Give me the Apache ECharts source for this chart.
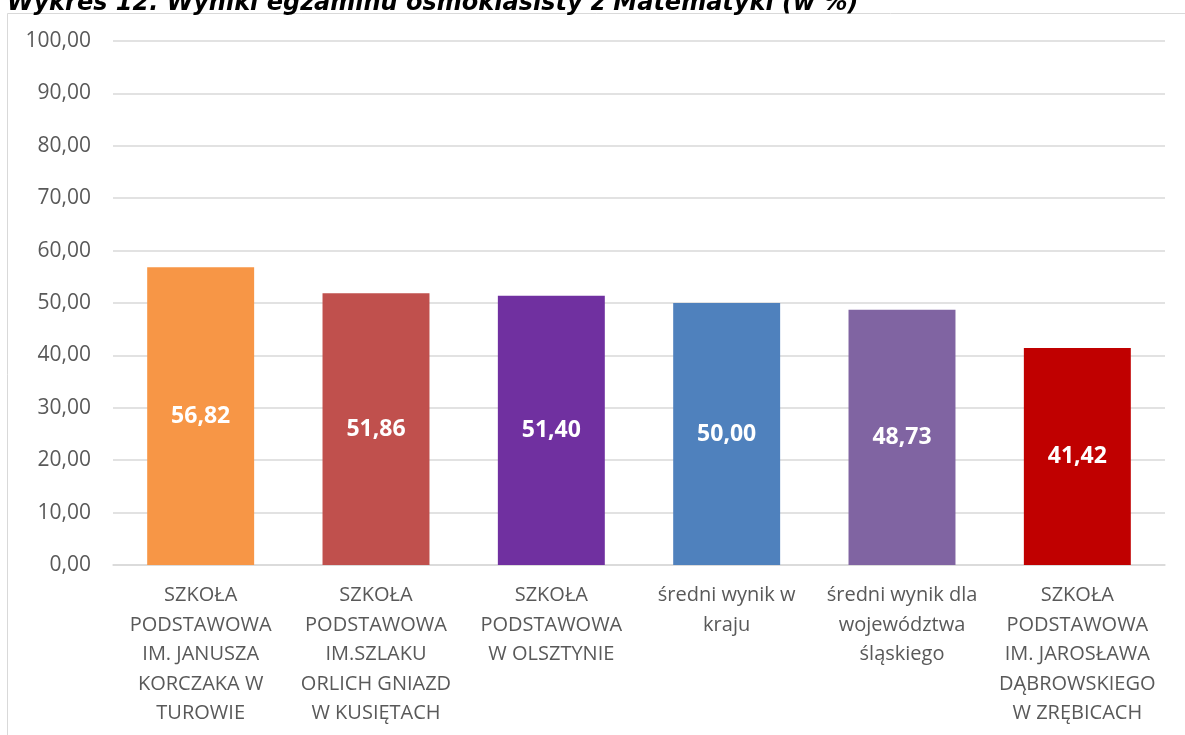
<!DOCTYPE html>
<html>
<head>
<meta charset="utf-8">
<script src="https://cdn.jsdelivr.net/npm/echarts@6/dist/echarts.min.js"></script>
<style>html,body{margin:0;padding:0;background:#fff;}#c{width:1185px;height:735px;}</style>
</head>
<body>
<div id="c"></div>
<script>
const title = 'Wykres 12. Wyniki egzaminu ósmoklasisty z Matematyki (w %)';
const categories = [
  'SZKOŁA\nPODSTAWOWA\nIM. JANUSZA\nKORCZAKA W\nTUROWIE',
  'SZKOŁA\nPODSTAWOWA\nIM.SZLAKU\nORLICH GNIAZD\nW KUSIĘTACH',
  'SZKOŁA\nPODSTAWOWA\nW OLSZTYNIE',
  'średni wynik w\nkraju',
  'średni wynik dla\nwojewództwa\nśląskiego',
  'SZKOŁA\nPODSTAWOWA\nIM. JAROSŁAWA\nDĄBROWSKIEGO\nW ZRĘBICACH'
];
const values = [56.82, 51.86, 51.40, 50.00, 48.73, 41.42];
const colors = ['#F79646', '#C0504D', '#7030A0', '#4F81BD', '#8064A2', '#C00000'];
const yMin = 0, yMax = 100, yStep = 10;

const fmt = v => v.toFixed(2).replace('.', ',');
const chart = echarts.init(document.getElementById('c'), null, {renderer: 'canvas'});
chart.setOption({
  animation: false,
  backgroundColor: '#fff',
  title: {
    text: title,
    left: 2,
    top: -13,
    textStyle: {fontFamily: 'DejaVu Sans', fontWeight: 'bold', fontStyle: 'italic', fontSize: 24, color: '#000'}
  },
  graphic: [
    {type: 'line', shape: {x1: 7.5, y1: 13.5, x2: 1185, y2: 13.5}, style: {stroke: '#d9d9d9', lineWidth: 1}},
    {type: 'line', shape: {x1: 7.5, y1: 13.5, x2: 7.5, y2: 735}, style: {stroke: '#d9d9d9', lineWidth: 1}}
  ],
  grid: {left: 113, right: 20, top: 41, bottom: 170, containLabel: false},
  xAxis: {
    type: 'category',
    data: categories,
    axisLine: {show: true, lineStyle: {color: '#d9d9d9', width: 1.5}},
    axisTick: {show: false},
    axisLabel: {interval: 0, margin: 16, color: '#595959', fontFamily: 'Open Sans', fontSize: 20, lineHeight: 29.5}
  },
  yAxis: {
    type: 'value', min: yMin, max: yMax, interval: yStep,
    axisLine: {show: false}, axisTick: {show: false},
    splitLine: {lineStyle: {color: '#d9d9d9', width: 1.5}},
    axisLabel: {formatter: fmt, margin: 22, color: '#595959', fontFamily: 'Open Sans', fontSize: 21}
  },
  series: [{
    type: 'bar',
    data: values.map((v, i) => ({value: v, itemStyle: {color: colors[i]}})),
    barCategoryGap: '39%',
    label: {show: true, position: 'inside', formatter: p => fmt(p.value), color: '#fff', fontFamily: 'Open Sans', fontWeight: 'bold', fontSize: 23}
  }]
});
</script>
</body>
</html>
